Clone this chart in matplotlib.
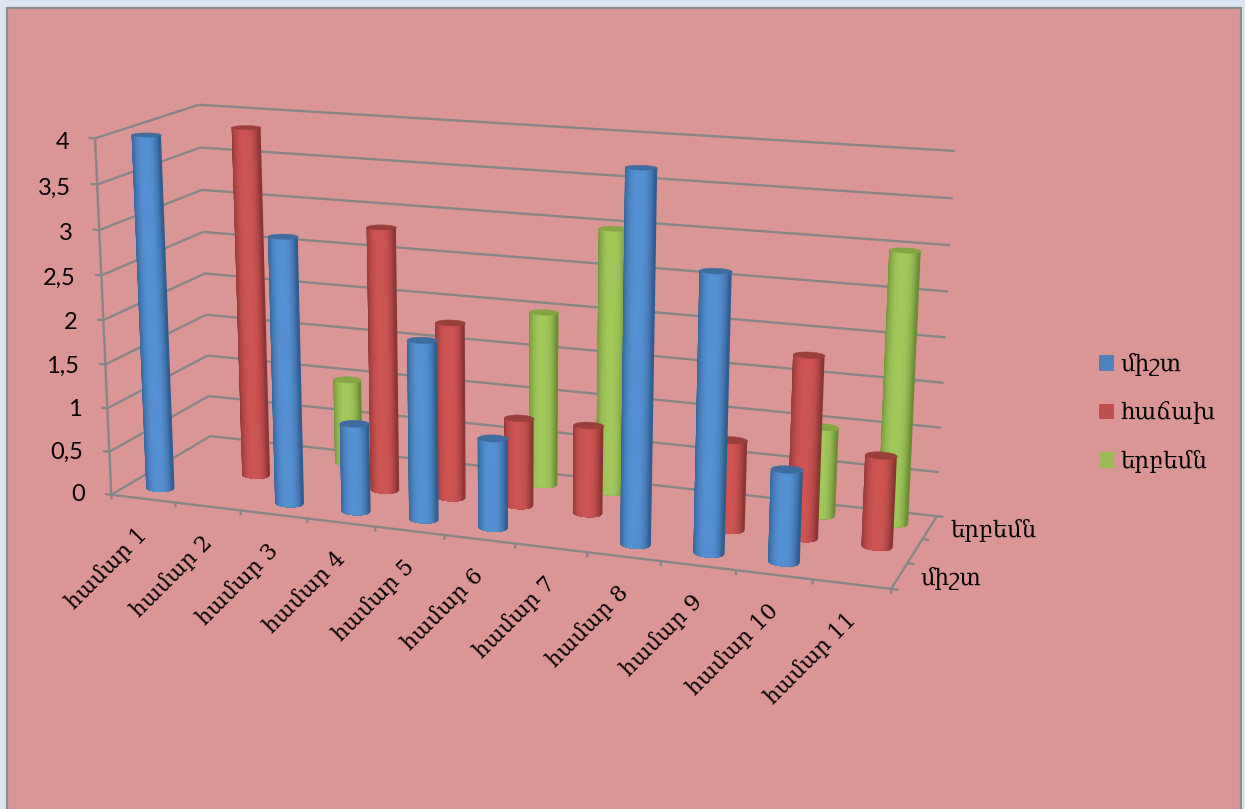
import numpy as np
import matplotlib
matplotlib.use("Agg")
import matplotlib.pyplot as plt
from matplotlib.patches import Rectangle, Patch
from mpl_toolkits.mplot3d.art3d import Poly3DCollection, Line3DCollection

categories = ["համար 1", "համար 2", "համար 3", "համար 4", "համար 5", "համար 6",
              "համար 7", "համար 8", "համար 9", "համար 10", "համար 11"]
series_names = ["միշտ", "հաճախ", "երբեմն"]
depth_labels = ["միշտ", "", "երբեմն"]
values_always = [4, 0, 3, 1, 2, 1, 0, 4, 3, 1, 0]
values_often = [0, 4, 0, 3, 2, 1, 1, 0, 1, 2, 1]
values_sometimes = [0, 0, 1, 0, 0, 2, 3, 0, 0, 1, 3]
value_ticks = [0, 0.5, 1, 1.5, 2, 2.5, 3, 3.5, 4]
value_tick_labels = ["0", "0,5", "1", "1,5", "2", "2,5", "3", "3,5", "4"]

W, H = 1245, 809
GRID = "#868686"
SERIF = ["DejaVu Serif", "DejaVu Sans"]
NUMFONT = "Lato"
LABEL_PT = 15.8
DEPTH_PT = 16.4
LEGEND_PT = 16.5

# camera: box corners (category, depth, value) as seen in pixels
cam_world = [(0, 0, 0), (11, 0, 0), (0, 3, 0), (11, 3, 0), (0, 0, 4), (0, 3, 4), (11, 3, 4)]
cam_pixel = [(111.5, 495), (891, 589), (210, 436), (937, 516), (95, 138), (199, 105), (955, 151)]


def solve_camera():
    A, b = [], []
    for (x, y, z), (u, v) in zip(cam_world, cam_pixel):
        A.append([x, y, z, 1, 0, 0, 0, 0, -u * x, -u * y, -u * z]); b.append(u)
        A.append([0, 0, 0, 0, x, y, z, 1, -v * x, -v * y, -v * z]); b.append(v)
    p = np.linalg.lstsq(np.array(A, float), np.array(b, float), rcond=None)[0]
    return np.append(p, 1.0).reshape(3, 4)


CAM = solve_camera()


def to_pixel(x, y, z):
    u, v, w = CAM @ np.array([x, y, z, 1.0])
    return u / w, v / w


plt.rcParams["font.family"] = SERIF
fig = plt.figure(figsize=(W / 100, H / 100), dpi=100, facecolor="#DBE5F1")
fig.add_artist(Rectangle((7 / W, -0.02), (1241 - 7) / W, 1.02 - 7.5 / H, transform=fig.transFigure,
                         facecolor="#DA9694", edgecolor="#8C8C8C", linewidth=1.6, zorder=-5))
ax = fig.add_axes([0, 0, 1, 1], projection="3d", computed_zorder=False)
ax.set_axis_off()
ax.patch.set_visible(False)
ax.set_autoscale_on(False)
ax.set_xlim(0, 11)
ax.set_ylim(0, 3)
ax.set_zlim(0, 4)


def custom_proj():
    x0, x1 = ax.viewLim.intervalx
    y0, y1 = ax.viewLim.intervaly
    u, v, w = CAM
    return np.array([
        x0 * w + (x1 - x0) / W * u,
        y1 * w - (y1 - y0) / H * v,
        [0, 1.0, 0, 0],
        w,
    ])


ax.get_proj = custom_proj
ax.apply_aspect = lambda position=None: None

segments = []


def line3(xs, ys, zs):
    pts = list(zip(xs, ys, zs))
    segments.extend(zip(pts[:-1], pts[1:]))


for v in value_ticks:
    line3([0, 0, 11], [0, 3, 3], [v, v, v])
    line3([-0.1, 0], [0, 0], [v, v])
line3([0, 0], [0, 0], [0, 4])
line3([0, 11, 11], [0, 0, 3], [0, 0, 0])
for i in range(len(categories) + 1):
    line3([i, i], [0, 0], [0, -0.055])
for j in range(len(series_names) + 1):
    line3([11, 11.09], [j, j], [0, 0])
grid = Line3DCollection([np.array(s) for s in segments], colors=GRID, linewidths=1.7, zorder=1)
ax.add_collection3d(grid, autolim=False)

RX, RY = 0.205, 0.16
BANDS = 16
PEAK = -0.1


def cylinder(cx, cy, h, edge, center, cap, order):
    dense = np.linspace(0, 2 * np.pi, 721)
    us = np.array([to_pixel(cx + RX * np.cos(a), cy + RY * np.sin(a), 0)[0] for a in dense])
    t_left, t_right = dense[np.argmin(us)], dense[np.argmax(us)]
    if t_right < t_left:
        t_right += 2 * np.pi
    edge_rgb = np.array(matplotlib.colors.to_rgb(edge))
    center_rgb = np.array(matplotlib.colors.to_rgb(center))
    # nested bands from the whole silhouette in to the highlight: no seams between strips
    for k in range(BANDS):
        level = k / (BANDS - 1)
        r = 1.2 if k == 0 else (1 - level * 0.97) ** (1 / 2.6)
        lo = np.clip(PEAK - r, -1, 1)
        hi = np.clip(PEAK + r, -1, 1)
        frac = np.arccos(-np.linspace(lo, hi, 25)) / np.pi
        t = t_left + frac * (t_right - t_left)
        xs, ys = cx + RX * np.cos(t), cy + RY * np.sin(t)
        band = list(zip(xs, ys, np.zeros_like(t))) + list(zip(xs[::-1], ys[::-1], np.full_like(t, h)))
        col = edge_rgb * (1 - level) + center_rgb * level
        ax.add_collection3d(Poly3DCollection([band], facecolor=col, edgecolor="none", linewidth=0,
                                             zorder=order + 0.01 * k), autolim=False)
    ring = np.linspace(0, 2 * np.pi, 73)
    verts = list(zip(cx + RX * np.cos(ring), cy + RY * np.sin(ring), np.full_like(ring, h)))
    ax.add_collection3d(Poly3DCollection([verts], facecolor=cap, edgecolor=cap, linewidth=0.3, zorder=order + 0.5),
                        autolim=False)


STYLES = [("#2F5D8E", "#5590D2", "#3F6C9F"), ("#8A3533", "#CE5452", "#9B3F3D"), ("#6C8C36", "#A2C85C", "#85A545")]
LEGEND_COLORS = ["#4F81BD", "#C0504D", "#9BBB59"]
all_values = [values_always, values_often, values_sometimes]
for s in (2, 1, 0):
    for c, val in enumerate(all_values[s]):
        if val > 0:
            cylinder(c + 0.5, s + 0.5, val, *STYLES[s], order=10 - s)

for v, lab in zip(value_ticks, value_tick_labels):
    px, py = to_pixel(0, 0, v)
    fig.text((px - 26) / W, 1 - (py - 0.5 + 5 * v / 4) / H, lab, ha="right", va="center", family=NUMFONT,
             fontsize=17, color="black")
for i, lab in enumerate(categories):
    px, py = to_pixel(i + 0.5, 0, 0)
    fig.text((px + 1) / W, 1 - (py + 33) / H, lab, ha="right", va="center", rotation=45, rotation_mode="anchor",
             fontsize=LABEL_PT, color="black")
for j, lab in enumerate(depth_labels):
    if lab:
        px, py = to_pixel(11, j + 0.5, 0)
        fig.text((px + 21) / W, 1 - (py + 3) / H, lab, ha="left", va="center", fontsize=DEPTH_PT, color="black")

handles = [Patch(facecolor=c, edgecolor="none", label=n) for c, n in zip(LEGEND_COLORS, series_names)]
fig.legend(handles=handles, loc="upper left", bbox_to_anchor=(1092 / W, 1 - 346 / H), frameon=False,
           fontsize=LEGEND_PT, handlelength=0.655, handleheight=0.655, handletextpad=0.27, labelspacing=1.115,
           borderpad=0.3, borderaxespad=0)

fig.savefig("out.png", dpi=100, facecolor=fig.get_facecolor())
